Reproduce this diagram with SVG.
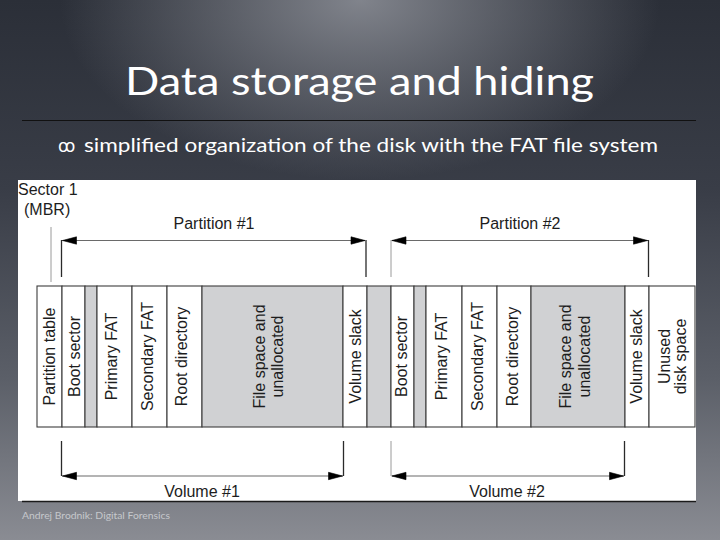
<svg xmlns="http://www.w3.org/2000/svg" width="720" height="540" viewBox="0 0 720 540">
<defs>
<linearGradient id="bgv" x1="0" y1="0" x2="0" y2="1">
<stop offset="0" stop-color="#2b2f38"/>
<stop offset="0.35" stop-color="#393d47"/>
<stop offset="0.7" stop-color="#5b5f68"/>
<stop offset="1" stop-color="#8a8c93"/>
</linearGradient>
<radialGradient id="glow" cx="360" cy="0" r="300" gradientUnits="userSpaceOnUse" gradientTransform="translate(360 0) scale(1 0.6) translate(-360 0)">
<stop offset="0" stop-color="#8a8d95" stop-opacity="0.9"/>
<stop offset="1" stop-color="#8a8d95" stop-opacity="0"/>
</radialGradient>
<style>
.cell{fill:#ffffff;stroke:#3c3c3c;stroke-width:1.1}
.gray{fill:#d0d1d3;stroke:#3c3c3c;stroke-width:1.1}
.lbl{font-family:"Liberation Sans",Arial,sans-serif;font-size:16px;fill:#1d1d1d;text-anchor:middle}
.hl{font-family:"Liberation Sans",Arial,sans-serif;font-size:16px;fill:#1d1d1d}
.arr{stroke:#6a6a6a;stroke-width:1.2;fill:none}
.ah{fill:#000000;stroke:#000000;stroke-width:0.6}
.tick{stroke:#2a2a2a;stroke-width:1.3}
.tickl{stroke:#9a9a9a;stroke-width:1}
</style>
</defs>
<rect x="0" y="0" width="720" height="540" fill="url(#bgv)"/>
<rect x="0" y="0" width="720" height="540" fill="url(#glow)"/>

<text x="125" y="95" font-family="Lato,'Open Sans',sans-serif" font-size="38" fill="#ffffff" textLength="469" lengthAdjust="spacingAndGlyphs">Data storage and hiding</text>
<line x1="22" y1="120.5" x2="696" y2="120.5" stroke="#111" stroke-width="1"/>
<text x="58" y="151.5" font-family="'DejaVu Sans',sans-serif" font-size="17" fill="#ffffff">ꝏ</text>
<text x="84" y="151.5" font-family="Lato,'Open Sans',sans-serif" font-size="19" fill="#ffffff" textLength="574" lengthAdjust="spacingAndGlyphs">simplified organization of the disk with the FAT file system</text>

<rect x="18" y="180" width="678" height="321" fill="#ffffff"/>
<line x1="22" y1="501.5" x2="696" y2="501.5" stroke="#1a1a1a" stroke-width="1.5"/>

<g id="sector1">
<text class="hl" x="18" y="195">Sector 1</text>
<text class="hl" x="24" y="215">(MBR)</text>
</g>

<g id="partition1-label"><text class="lbl" x="214" y="228.5">Partition #1</text></g>
<g id="partition2-label"><text class="lbl" x="520" y="228.5">Partition #2</text></g>
<g id="volume1-label"><text class="lbl" x="202" y="496.5">Volume #1</text></g>
<g id="volume2-label"><text class="lbl" x="507" y="496.5">Volume #2</text></g>

<g id="cell-partition-table"><rect class="cell" x="37" y="286" width="25" height="141"/><text class="lbl" transform="translate(55 356.5) rotate(-90)">Partition table</text></g>
<g id="cell-boot-sector-1"><rect class="cell" x="62" y="286" width="23" height="141"/><text class="lbl" transform="translate(79.5 356.5) rotate(-90)">Boot sector</text></g>
<g id="cell-gap-1"><rect class="gray" x="85" y="286" width="12" height="141"/></g>
<g id="cell-primary-fat-1"><rect class="cell" x="97" y="286" width="35" height="141"/><text class="lbl" transform="translate(117 356.5) rotate(-90)">Primary FAT</text></g>
<g id="cell-secondary-fat-1"><rect class="cell" x="132" y="286" width="35" height="141"/><text class="lbl" transform="translate(153 356.5) rotate(-90)">Secondary FAT</text></g>
<g id="cell-root-directory-1"><rect class="cell" x="167" y="286" width="35" height="141"/><text class="lbl" transform="translate(187 356.5) rotate(-90)">Root directory</text></g>
<g id="cell-file-space-1"><rect class="gray" x="202" y="286" width="141" height="141"/><text class="lbl" transform="translate(264.5 356.5) rotate(-90)">File space and</text><text class="lbl" transform="translate(283.3 356.5) rotate(-90)">unallocated</text></g>
<g id="cell-volume-slack-1"><rect class="cell" x="343" y="286" width="24" height="141"/><text class="lbl" transform="translate(361 356.5) rotate(-90)">Volume slack</text></g>
<g id="cell-gap-2"><rect class="gray" x="367" y="286" width="24" height="141"/></g>
<g id="cell-boot-sector-2"><rect class="cell" x="391" y="286" width="23" height="141"/><text class="lbl" transform="translate(407 356.5) rotate(-90)">Boot sector</text></g>
<g id="cell-gap-3"><rect class="gray" x="414" y="286" width="12" height="141"/></g>
<g id="cell-primary-fat-2"><rect class="cell" x="426" y="286" width="36" height="141"/><text class="lbl" transform="translate(446.5 356.5) rotate(-90)">Primary FAT</text></g>
<g id="cell-secondary-fat-2"><rect class="cell" x="462" y="286" width="35" height="141"/><text class="lbl" transform="translate(483 356.5) rotate(-90)">Secondary FAT</text></g>
<g id="cell-root-directory-2"><rect class="cell" x="497" y="286" width="34" height="141"/><text class="lbl" transform="translate(517.5 356.5) rotate(-90)">Root directory</text></g>
<g id="cell-file-space-2"><rect class="gray" x="531" y="286" width="94" height="141"/><text class="lbl" transform="translate(571 356.5) rotate(-90)">File space and</text><text class="lbl" transform="translate(590 356.5) rotate(-90)">unallocated</text></g>
<g id="cell-volume-slack-2"><rect class="cell" x="625" y="286" width="24" height="141"/><text class="lbl" transform="translate(641.5 356.5) rotate(-90)">Volume slack</text></g>
<g id="cell-unused"><rect class="cell" x="649" y="286" width="46" height="141"/><text class="lbl" transform="translate(669.5 356.5) rotate(-90)">Unused</text><text class="lbl" transform="translate(686 356.5) rotate(-90)">disk space</text></g>

<g id="connectors">
<line class="tickl" x1="51" y1="227" x2="51" y2="282"/>
<line class="tick" x1="61.5" y1="240" x2="61.5" y2="277"/>
<line class="tick" x1="366" y1="240" x2="366" y2="277"/>
<line class="arr" x1="62" y1="240.5" x2="365.5" y2="240.5"/>
<path class="ah" d="M62.5,240.5 L76.5,236.8 L76.5,244.2 Z"/>
<path class="ah" d="M365,240.5 L351,236.8 L351,244.2 Z"/>
<line class="tickl" x1="391" y1="240" x2="391" y2="277"/>
<line class="tick" x1="648.5" y1="240" x2="648.5" y2="277"/>
<line class="arr" x1="391.5" y1="240.5" x2="648" y2="240.5"/>
<path class="ah" d="M392,240.5 L406,236.8 L406,244.2 Z"/>
<path class="ah" d="M647.5,240.5 L633.5,236.8 L633.5,244.2 Z"/>
<line class="tick" x1="61.5" y1="441" x2="61.5" y2="476"/>
<line class="tick" x1="343.5" y1="441" x2="343.5" y2="476"/>
<line class="arr" x1="62" y1="476" x2="343" y2="476"/>
<path class="ah" d="M62.5,476 L76.5,472.3 L76.5,479.7 Z"/>
<path class="ah" d="M342.5,476 L328.5,472.3 L328.5,479.7 Z"/>
<line class="tickl" x1="391" y1="441" x2="391" y2="476"/>
<line class="tick" x1="624.5" y1="441" x2="624.5" y2="476"/>
<line class="arr" x1="391.5" y1="476" x2="624" y2="476"/>
<path class="ah" d="M392,476 L406,472.3 L406,479.7 Z"/>
<path class="ah" d="M623.5,476 L609.5,472.3 L609.5,479.7 Z"/>
</g>

<text x="22" y="519" font-family="Lato,'Open Sans',sans-serif" font-size="9.5" fill="#c6c8cc" textLength="148" lengthAdjust="spacingAndGlyphs">Andrej Brodnik: Digital Forensics</text>
</svg>
